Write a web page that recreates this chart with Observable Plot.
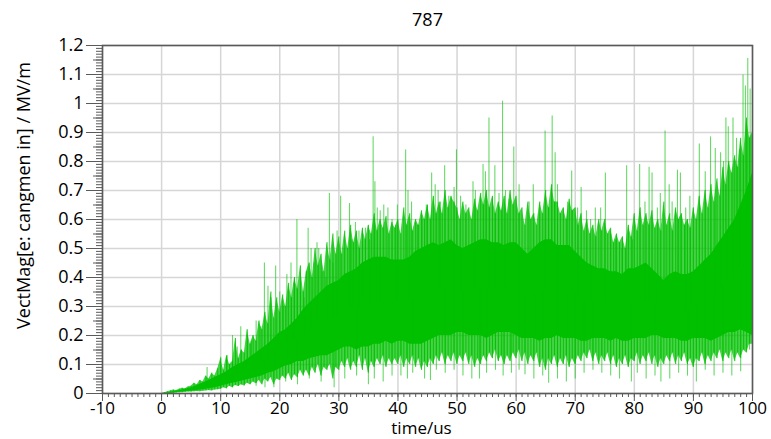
<!DOCTYPE html>
<html><head><meta charset="utf-8">
<script src="https://cdn.jsdelivr.net/npm/d3@7"></script>
<script src="https://cdn.jsdelivr.net/npm/@observablehq/plot@0.6"></script>
<style>body{margin:0;background:#fff}</style>
</head><body><div id="chart"></div>
<script>
// ---- text and ticks ----
const titleText = "787";
const xLabel = "time/us";
const yLabel = "VectMag[e: cangmen in] / MV/m";
const xTicks = [-10, 0, 10, 20, 30, 40, 50, 60, 70, 80, 90, 100];
const yTicks = [0, 0.1, 0.2, 0.3, 0.4, 0.5, 0.6, 0.7, 0.8, 0.9, 1, 1.1, 1.2];

// solid (fully covered) band of the signal, one value per microsecond (t = 0..100)
const coreHi = [0,0.003,0.007,0.01,0.015,0.02,0.028,0.036,0.045,0.055,
  0.065,0.075,0.09,0.1,0.11,0.125,0.14,0.155,0.17,0.19,
  0.21,0.22,0.24,0.26,0.29,0.31,0.33,0.35,0.37,0.38,
  0.39,0.41,0.42,0.43,0.45,0.46,0.47,0.47,0.47,0.46,
  0.46,0.46,0.47,0.49,0.5,0.51,0.52,0.51,0.52,0.53,
  0.51,0.5,0.51,0.52,0.53,0.53,0.52,0.52,0.51,0.52,
  0.52,0.5,0.48,0.5,0.52,0.53,0.53,0.51,0.51,0.51,
  0.49,0.47,0.45,0.44,0.43,0.43,0.42,0.42,0.41,0.43,
  0.43,0.44,0.45,0.43,0.41,0.39,0.41,0.42,0.41,0.41,
  0.42,0.44,0.46,0.48,0.51,0.54,0.57,0.6,0.65,0.7,0.76];
const coreLo = [0,0,0.002,0.004,0.006,0.008,0.01,0.013,0.016,0.02,
  0.025,0.03,0.035,0.04,0.045,0.05,0.055,0.06,0.07,0.075,
  0.085,0.095,0.1,0.11,0.11,0.12,0.125,0.13,0.13,0.14,
  0.15,0.16,0.16,0.15,0.16,0.16,0.17,0.17,0.18,0.17,
  0.18,0.18,0.17,0.17,0.17,0.18,0.19,0.2,0.2,0.2,
  0.21,0.21,0.2,0.2,0.2,0.19,0.2,0.21,0.21,0.21,
  0.2,0.19,0.19,0.19,0.18,0.19,0.19,0.2,0.19,0.19,
  0.19,0.18,0.18,0.19,0.19,0.19,0.18,0.19,0.18,0.18,
  0.19,0.19,0.19,0.2,0.2,0.19,0.19,0.19,0.18,0.18,
  0.19,0.19,0.19,0.18,0.19,0.2,0.21,0.21,0.22,0.21,0.2];

// ragged outer band (partly covered), one value per half microsecond (t = 0..100), in 0.01 units
const fringeTop = [0,0.3,0.6,0.9,1.2,1,1.5,1.8,1.6,2.2,
  2.5,3.5,3,4.5,4,6,5,7,6,8.5,
  12,8,13,10,11,19,12,15,14,22,
  17,20,18,25,22,28,24,35,26,33,
  28,34,30,38,33,40,36,44,35,42,
  45,40,50,44,48,42,52,46,55,48,
  54,48,56,50,58,52,56,50,57,53,
  58,55,62,56,60,57,61,55,59,57,
  60,55,64,58,62,56,60,58,63,60,
  65,60,68,62,66,62,70,64,68,66,
  64,60,66,62,64,60,67,63,69,65,
  70,64,68,62,66,63,68,62,70,65,
  68,62,64,58,66,60,62,58,66,62,
  70,64,72,66,66,62,64,60,67,63,
  64,58,62,56,60,55,58,54,60,56,
  60,55,57,52,55,52,54,50,58,54,
  62,56,64,58,62,58,63,57,60,56,
  66,58,62,56,64,60,62,58,60,57,
  64,60,68,62,70,64,72,66,74,68,
  78,72,80,76,82,78,88,82,95,88,
  90];
const fringeBot = [0,0,0,0,0,0.2,0.3,0.3,0.4,0.5,
  0.5,0.6,0.7,0.6,0.8,0.9,1,0.9,1.2,1.3,
  1.5,2,1.6,2.5,2,2.8,2.4,3,2.6,3.5,
  3,4,3.4,4.5,3,5,4,5.5,3,5,
  4.5,6,5,7,4.5,6.5,5.5,8,6,8,
  6,9,7,10,6,9,8,10,5,9,
  8,11,9,12,8,11,9,13,8,12,
  7,11,9,12,10,13,9,12,10,12,
  10,13,9,12,10,13,9,12,8,11,
  9,12,10,13,11,14,10,13,11,14,
  10,13,11,14,10,13,9,12,10,13,
  11,14,12,15,11,13,10,13,11,14,
  12,15,11,14,10,13,11,14,9,12,
  8,12,10,13,9,12,10,13,9,12,
  10,13,11,14,12,15,11,14,10,13,
  11,14,10,13,9,12,10,13,9,12,
  11,14,10,13,11,14,10,13,9,12,
  10,13,11,14,10,13,11,14,10,12,
  9,12,11,14,10,13,11,14,12,15,
  11,14,12,15,11,14,12,15,14,17,
  17];

// isolated upward spikes: time, peak value
const upT = [7.7,10,11.1,12,12.8,13.4,14.5,15.2,16,16.8,17.4,18,18.5,19.3,20,20.6,21.2,21.9,22.4,22.9,
  23.5,24.1,24.8,25.3,25.8,26.3,26.6,27.2,27.8,28.4,29,29.7,30.3,30.9,31.8,32.2,32.8,33.4,34,34.5,
  35.2,35.8,36.1,36.5,37,37.6,38.3,39,39.6,39.9,
  41.3,41.7,42.3,43.3,44.1,44.8,45.7,46.3,46.8,47.2,47.9,48.6,49.5,49.9,50.6,51.5,52.7,53.1,54.4,54.8,
  55.4,56.4,57.1,57.7,58.2,58.8,59.6,
  60.5,62.2,62.9,63.9,64.9,65.5,66.1,66.6,67,68.7,69.4,70.4,71,71.9,72.6,73.4,74.3,75.1,76,76.8,77.9,78.7,79.7,
  80.9,81.8,82.5,83,83.9,84.4,85.2,85.9,86.4,87.3,87.8,88.7,89.4,91,92,92.9,93.7,94.6,95.1,95.5,
  95.9,96.7,97.3,97.8,98.4,98.8,99.2,99.6];
const upV = [0.09,0.125,0.13,0.2,0.16,0.23,0.2,0.18,0.25,0.23,0.45,0.37,0.33,0.44,0.35,0.3,0.41,0.45,0.38,0.6,
  0.35,0.33,0.57,0.5,0.45,0.52,0.5,0.42,0.4,0.69,0.45,0.56,0.68,0.5,0.655,0.53,0.59,0.56,0.52,0.57,
  0.53,0.885,0.73,0.64,0.63,0.65,0.64,0.6,0.58,0.65,
  0.84,0.7,0.66,0.58,0.6,0.65,0.76,0.72,0.7,0.66,0.785,0.68,0.71,0.84,0.68,0.65,0.73,0.7,0.79,0.765,
  0.95,0.785,0.69,1.008,0.7,0.67,0.85,
  0.72,0.66,0.72,0.62,0.905,0.64,0.957,0.83,0.72,0.66,0.767,0.64,0.71,0.63,0.6,0.64,0.64,0.76,0.55,0.53,0.5,0.785,0.53,
  0.79,0.66,0.78,0.76,0.64,0.69,0.905,0.72,0.66,0.77,0.76,0.64,0.68,0.86,0.765,0.885,0.845,0.83,0.8,0.95,
  0.92,0.95,0.88,0.84,1.098,1.06,1.155,1.05];

// isolated downward spikes: time, lowest value
const dnT = [10,12,14,16,17.5,19,21,23,25,27,29.2,31,33,35,36,37.5,39,
  40.5,41.6,42.5,44.5,45.5,46.5,48,49.5,51,52.5,53.8,55,56.5,57.8,59.2,
  60.5,61.5,63,64.5,65.5,67,68.5,70,71.5,73,74.5,76,77.5,79.5,
  80.5,82,83.5,84.5,86,87.5,89,90.5,92,93.5,95,96.5,98,99.5];
const dnV = [0.016,0.02,0.03,0.025,0.02,0.02,0.04,0.03,0.05,0.04,0.02,0.05,0.06,0.03,0.05,0.04,0.06,
  0.06,0.05,0.07,0.05,0.045,0.08,0.07,0.08,0.06,0.05,0.05,0.07,0.08,0.06,0.07,
  0.08,0.065,0.05,0.06,0.035,0.05,0.04,0.05,0.07,0.08,0.07,0.06,0.05,0.04,
  0.07,0.05,0.06,0.04,0.05,0.07,0.06,0.04,0.08,0.06,0.07,0.06,0.075,0.15];

// ---- tables for the library ----
const core = coreHi.map((h, i) => ({t: i, hi: h, lo: coreLo[i]}));
const fringe = fringeTop.map((h, i) => ({t: i / 2, hi: h / 100, lo: fringeBot[i] / 100}));
const coreMid = t => {
  const i = Math.min(99, Math.floor(t)), f = t - i;
  const h = coreHi[i] + (coreHi[i + 1] - coreHi[i]) * f;
  const l = coreLo[i] + (coreLo[i + 1] - coreLo[i]) * f;
  return (h + l) / 2;
};
const ups = upT.map((t, i) => ({t, v: upV[i], base: coreMid(t)}));
const dns = dnT.map((t, i) => ({t, v: dnV[i], base: coreMid(t)}));
const tips = fringe.map(d => ({t: d.t, hi: d.hi, lo: d.lo, base: coreMid(d.t)}));

const green = "#00c000";
const axisCol = "#5a5a5a";
const gridCol = "#d6d6d6";
const font = "'Open Sans', 'DejaVu Sans', sans-serif";
const yMinor = d3.range(0, 1.2001, 0.01).map(d => +d.toFixed(2));
const yMid = d3.range(0.05, 1.2, 0.1).map(d => +d.toFixed(2));
const xMinor = d3.range(-10, 100.5, 1);

const chart = Plot.plot({
  width: 771, height: 439,
  marginLeft: 102, marginRight: 19, marginTop: 45, marginBottom: 46,
  style: {fontFamily: font, fontSize: "17px", background: "#fff", color: "#000"},
  x: {domain: [-10, 100], label: null},
  y: {domain: [0, 1.2], label: null},
  marks: [
    Plot.gridX(xTicks, {stroke: gridCol, strokeOpacity: 1, strokeWidth: 1.5}),
    Plot.gridY(yTicks, {stroke: gridCol, strokeOpacity: 1, strokeWidth: 1.5}),
    Plot.areaY(fringe, {x: "t", y1: "lo", y2: "hi", fill: green, fillOpacity: 0.72}),
    Plot.ruleX(tips, {x: "t", y1: "base", y2: "hi", stroke: green, strokeOpacity: 0.85, strokeWidth: 1}),
    Plot.ruleX(tips, {x: "t", y1: "base", y2: "lo", stroke: green, strokeOpacity: 0.85, strokeWidth: 1}),
    Plot.areaY(core, {x: "t", y1: "lo", y2: "hi", fill: green}),
    Plot.ruleX(ups, {x: "t", y1: "base", y2: "v", stroke: green, strokeOpacity: 0.6, strokeWidth: 1.1}),
    Plot.ruleX(dns, {x: "t", y1: "base", y2: "v", stroke: green, strokeOpacity: 0.6, strokeWidth: 1.1}),
    Plot.axisY(yMinor, {tickSize: 6, text: null, label: null, stroke: axisCol}),
    Plot.axisY(yMid, {tickSize: 9, text: null, label: null, stroke: axisCol}),
    Plot.axisY(yTicks, {tickSize: 16, tickPadding: 3, label: null, stroke: axisCol,
      tickFormat: d => String(+d.toFixed(1)), fontSize: 18, fill: "#000"}),
    Plot.axisX(xMinor, {tickSize: 4, text: null, label: null, stroke: axisCol}),
    Plot.axisX(xTicks, {tickSize: 8, tickPadding: 0, label: null, stroke: axisCol,
      tickFormat: d => String(d), fontSize: 17, fill: "#000"}),
    Plot.frame({stroke: axisCol, strokeWidth: 1.6}),
    Plot.text([titleText], {frameAnchor: "top", dy: -25, lineAnchor: "middle", fontSize: 18, fill: "#000"}),
    Plot.text([xLabel], {frameAnchor: "bottom", dx: -6, dy: 35, lineAnchor: "middle", fontSize: 17, fill: "#000"}),
    Plot.text([yLabel], {frameAnchor: "left", dx: -78, dy: -24, rotate: -90, textAnchor: "middle",
      lineAnchor: "middle", fontSize: 18, fill: "#000"})
  ]
});
document.getElementById("chart").appendChild(chart);
</script></body></html>
